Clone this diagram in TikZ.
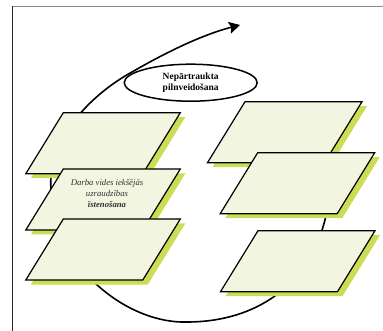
\documentclass[tikz,border=0pt]{standalone}
\usepackage{fontspec}
\setmainfont{Liberation Serif}
\usetikzlibrary{arrows.meta,shapes.geometric}
\definecolor{platefill}{HTML}{F2F5E0}
\definecolor{shadowc}{HTML}{CCDD55}
\definecolor{txtgray}{HTML}{333333}
\tikzset{
  plate/.pic={
    \fill[shadowc] (5,4.5) -- (122,4.5) -- (84.5,65.5) -- (-32.5,65.5) -- cycle;
    \draw[fill=platefill,line width=1.2pt,line join=miter] (0,0) coordinate (-tl) -- (117,0) -- (79.5,61) -- (-37.5,61) -- cycle;
  },
  cyclearrow/.style={line width=1.6pt,-{Stealth[length=11pt,width=12pt,inset=2pt]}},
  goal/.style={ellipse,draw,line width=1.5pt,fill=white,minimum width=133pt,minimum height=37pt,inner sep=0pt,align=center,font=\bfseries\fontsize{9.5}{11.3}\selectfont},
  platetext/.style={align=center,text=txtgray,font=\itshape\fontsize{8.7}{11}\selectfont},
  frameline/.style={line width=0.8pt}
}
\begin{document}
\begin{tikzpicture}[x=1pt,y=-1pt]
\useasboundingbox (0,0) rectangle (383,331);
\coordinate (fa) at (12.5,331);
\coordinate (fb) at (12.5,6.5);
\coordinate (fc) at (383,6.5);
\draw[frameline,draw=black!85] (fa) -- (fb);
\draw[frameline,draw=black!45] (fb) -- (fc);
\coordinate (c0) at (330,190);
\coordinate (c1) at (187,322);
\coordinate (c2) at (51,190);
\coordinate (c3) at (132,72);
\coordinate (c4) at (240,25);
\draw[cyclearrow] (c0) .. controls (322,280) and (260,322) .. (c1)
  .. controls (130,324) and (55,270) .. (c2)
  .. controls (47,140) and (90,95) .. (c3)
  .. controls (170,50) and (205,34) .. (c4);
\pic (L1) at (63.3,112.7) {plate};
\pic (L2) at (63.3,169) {plate};
\pic (L3) at (63.3,219) {plate};
\pic (R1) at (245,101.7) {plate};
\pic (R2) at (257.7,152.7) {plate};
\pic (R3) at (258,230.7) {plate};
\node[platetext] (t2) at (107,193.5) {Darba vides iekšējās\\uzraudzības\\\textbf{īstenošana}};
\node[goal] (goal) at (190.7,82.7) {Nepārtraukta\\pilnveidošana};
\end{tikzpicture}
\end{document}
